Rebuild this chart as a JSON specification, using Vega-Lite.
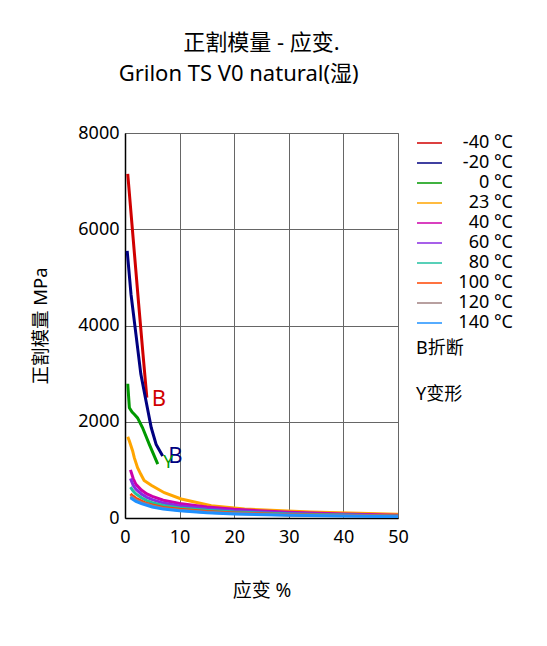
{
  "$schema": "https://vega.github.io/schema/vega-lite/v6.json",
  "width": 273,
  "height": 385,
  "padding": {"left": 31, "top": 32, "right": 5, "bottom": 5},
  "autosize": {"type": "pad"},
  "background": "white",
  "title": {
    "text": "正割模量 - 应变.",
    "subtitle": "Grilon TS V0 natural(湿)\u00a0\u00a0\u00a0\u00a0\u00a0\u00a0\u00a0\u00a0\u200b",
    "anchor": "middle",
    "frame": "group",
    "fontSize": 22,
    "fontWeight": "normal",
    "subtitleFontSize": 22,
    "subtitleColor": "black",
    "subtitlePadding": 9,
    "color": "black",
    "offset": 38
  },
  "config": {
    "font": "Noto Sans, Noto Sans CJK SC, sans-serif",
    "view": {"stroke": "#888888", "strokeWidth": 1},
    "axis": {
      "labelFontSize": 18,
      "labelColor": "black",
      "titleFontSize": 19,
      "titleFontWeight": "normal",
      "titleColor": "black",
      "gridColor": "#666666",
      "gridWidth": 1,
      "gridOpacity": 1,
      "domainColor": "black",
      "domainWidth": 1.5,
      "ticks": false
    }
  },
  "layer": [
    {
      "data": {
        "values": [
          {"t": "-40 °C", "x": 0.5, "y": 7150},
          {"t": "-40 °C", "x": 1.5, "y": 5800},
          {"t": "-40 °C", "x": 2.5, "y": 4450},
          {"t": "-40 °C", "x": 3.3, "y": 3400},
          {"t": "-40 °C", "x": 4.0, "y": 2500},
          {"t": "-20 °C", "x": 0.4, "y": 5550},
          {"t": "-20 °C", "x": 1.1, "y": 4650},
          {"t": "-20 °C", "x": 2.0, "y": 3820},
          {"t": "-20 °C", "x": 2.9, "y": 2990},
          {"t": "-20 °C", "x": 3.85, "y": 2430},
          {"t": "-20 °C", "x": 4.8, "y": 1880},
          {"t": "-20 °C", "x": 5.7, "y": 1530},
          {"t": "-20 °C", "x": 6.9, "y": 1290},
          {"t": "0 °C", "x": 0.5, "y": 2790},
          {"t": "0 °C", "x": 0.8, "y": 2290},
          {"t": "0 °C", "x": 1.3, "y": 2200},
          {"t": "0 °C", "x": 1.7, "y": 2155},
          {"t": "0 °C", "x": 2.3, "y": 2080},
          {"t": "0 °C", "x": 3.2, "y": 1880},
          {"t": "0 °C", "x": 4.45, "y": 1530},
          {"t": "0 °C", "x": 6.0, "y": 1120},
          {"t": "23 °C", "x": 0.5, "y": 1690},
          {"t": "23 °C", "x": 0.8, "y": 1600},
          {"t": "23 °C", "x": 1.4, "y": 1392},
          {"t": "23 °C", "x": 1.7, "y": 1253},
          {"t": "23 °C", "x": 2.3, "y": 1045},
          {"t": "23 °C", "x": 2.9, "y": 908},
          {"t": "23 °C", "x": 3.5, "y": 780},
          {"t": "23 °C", "x": 4.8, "y": 680},
          {"t": "23 °C", "x": 7.2, "y": 526},
          {"t": "23 °C", "x": 10.3, "y": 395},
          {"t": "23 °C", "x": 15.8, "y": 255},
          {"t": "23 °C", "x": 21.9, "y": 185},
          {"t": "23 °C", "x": 34, "y": 125},
          {"t": "23 °C", "x": 50, "y": 77},
          {"t": "40 °C", "x": 1.0, "y": 1000},
          {"t": "40 °C", "x": 1.5, "y": 820},
          {"t": "40 °C", "x": 2, "y": 700},
          {"t": "40 °C", "x": 3, "y": 580},
          {"t": "40 °C", "x": 4, "y": 500},
          {"t": "40 °C", "x": 5, "y": 450},
          {"t": "40 °C", "x": 7, "y": 370},
          {"t": "40 °C", "x": 10, "y": 300},
          {"t": "40 °C", "x": 15, "y": 230},
          {"t": "40 °C", "x": 20, "y": 180},
          {"t": "40 °C", "x": 30, "y": 120},
          {"t": "40 °C", "x": 40, "y": 85},
          {"t": "40 °C", "x": 50, "y": 55},
          {"t": "60 °C", "x": 1.0, "y": 820},
          {"t": "60 °C", "x": 1.5, "y": 680},
          {"t": "60 °C", "x": 2, "y": 600},
          {"t": "60 °C", "x": 3, "y": 500},
          {"t": "60 °C", "x": 4, "y": 430},
          {"t": "60 °C", "x": 5, "y": 380},
          {"t": "60 °C", "x": 7, "y": 310},
          {"t": "60 °C", "x": 10, "y": 250},
          {"t": "60 °C", "x": 15, "y": 190},
          {"t": "60 °C", "x": 20, "y": 150},
          {"t": "60 °C", "x": 30, "y": 100},
          {"t": "60 °C", "x": 40, "y": 70},
          {"t": "60 °C", "x": 50, "y": 45},
          {"t": "80 °C", "x": 1.0, "y": 640},
          {"t": "80 °C", "x": 1.5, "y": 560},
          {"t": "80 °C", "x": 2, "y": 500},
          {"t": "80 °C", "x": 3, "y": 420},
          {"t": "80 °C", "x": 4, "y": 360},
          {"t": "80 °C", "x": 5, "y": 320},
          {"t": "80 °C", "x": 7, "y": 260},
          {"t": "80 °C", "x": 10, "y": 210},
          {"t": "80 °C", "x": 15, "y": 160},
          {"t": "80 °C", "x": 20, "y": 125},
          {"t": "80 °C", "x": 30, "y": 85},
          {"t": "80 °C", "x": 40, "y": 60},
          {"t": "80 °C", "x": 50, "y": 40},
          {"t": "100 °C", "x": 1.0, "y": 500},
          {"t": "100 °C", "x": 1.5, "y": 450},
          {"t": "100 °C", "x": 2, "y": 410},
          {"t": "100 °C", "x": 3, "y": 350},
          {"t": "100 °C", "x": 4, "y": 300},
          {"t": "100 °C", "x": 5, "y": 270},
          {"t": "100 °C", "x": 7, "y": 220},
          {"t": "100 °C", "x": 10, "y": 180},
          {"t": "100 °C", "x": 15, "y": 135},
          {"t": "100 °C", "x": 20, "y": 105},
          {"t": "100 °C", "x": 30, "y": 70},
          {"t": "100 °C", "x": 40, "y": 50},
          {"t": "100 °C", "x": 50, "y": 35},
          {"t": "120 °C", "x": 1.0, "y": 450},
          {"t": "120 °C", "x": 2, "y": 370},
          {"t": "120 °C", "x": 3, "y": 320},
          {"t": "120 °C", "x": 5, "y": 250},
          {"t": "120 °C", "x": 7, "y": 200},
          {"t": "120 °C", "x": 10, "y": 160},
          {"t": "120 °C", "x": 15, "y": 120},
          {"t": "120 °C", "x": 20, "y": 95},
          {"t": "120 °C", "x": 30, "y": 62},
          {"t": "120 °C", "x": 40, "y": 45},
          {"t": "120 °C", "x": 50, "y": 30},
          {"t": "140 °C", "x": 1.0, "y": 420},
          {"t": "140 °C", "x": 2, "y": 345},
          {"t": "140 °C", "x": 3, "y": 300},
          {"t": "140 °C", "x": 5, "y": 230},
          {"t": "140 °C", "x": 7, "y": 185},
          {"t": "140 °C", "x": 10, "y": 150},
          {"t": "140 °C", "x": 15, "y": 110},
          {"t": "140 °C", "x": 20, "y": 85},
          {"t": "140 °C", "x": 30, "y": 55},
          {"t": "140 °C", "x": 40, "y": 40},
          {"t": "140 °C", "x": 50, "y": 28}
        ]
      },
      "mark": {"type": "line", "strokeWidth": 3, "clip": true},
      "encoding": {
        "x": {
          "field": "x", "type": "quantitative",
          "scale": {"domain": [0, 50], "nice": false},
          "axis": {"values": [0, 10, 20, 30, 40, 50], "format": "d", "title": "应变 %", "labelPadding": 10, "titlePadding": 35, "labelFlush": false}
        },
        "y": {
          "field": "y", "type": "quantitative",
          "scale": {"domain": [0, 8000], "nice": false},
          "axis": {"values": [0, 2000, 4000, 6000, 8000], "format": "d", "title": "正割模量 MPa", "titleFontSize": 18.5, "labelPadding": 6, "titlePadding": 27, "labelFlush": false}
        },
        "color": {
          "field": "t", "type": "nominal",
          "scale": {
            "domain": ["-40 °C", "-20 °C", "0 °C", "23 °C", "40 °C", "60 °C", "80 °C", "100 °C", "120 °C", "140 °C"],
            "range": ["#d00000", "#000080", "#009900", "#ffa500", "#cc00aa", "#8a2be2", "#20c0a0", "#ff4500", "#a08080", "#1e90ff"]
          },
          "legend": {
            "title": ["B折断", "Y变形"],
            "titleOrient": "bottom",
            "titleAnchor": "start",
            "titleFontSize": 18,
            "titleFontWeight": "normal",
            "titleColor": "black",
            "titleLineHeight": 46,
            "titlePadding": 7,
            "symbolType": "stroke",
            "symbolSize": 625,
            "symbolStrokeWidth": 1.5,
            "clipHeight": 20,
            "rowPadding": 0,
            "labelFontSize": 18,
            "labelColor": "black",
            "labelAlign": "right",
            "labelOffset": 70,
            "offset": 18,
            "padding": 0
          }
        }
      }
    },
    {
      "data": {"values": [{"s": "B", "x": 6.2, "y": 2470}]},
      "mark": {"type": "text", "fontSize": 22, "color": "#d00000"},
      "encoding": {
        "x": {"field": "x", "type": "quantitative"},
        "y": {"field": "y", "type": "quantitative"},
        "text": {"field": "s"}
      }
    },
    {
      "data": {"values": [{"s": "B", "x": 9.25, "y": 1280}]},
      "mark": {"type": "text", "fontSize": 22, "color": "#000080"},
      "encoding": {
        "x": {"field": "x", "type": "quantitative"},
        "y": {"field": "y", "type": "quantitative"},
        "text": {"field": "s"}
      }
    },
    {
      "data": {"values": [{"s": "Y", "x": 7.95, "y": 1140}]},
      "mark": {"type": "text", "fontSize": 18, "color": "#009900"},
      "encoding": {
        "x": {"field": "x", "type": "quantitative"},
        "y": {"field": "y", "type": "quantitative"},
        "text": {"field": "s"}
      }
    }
  ]
}
